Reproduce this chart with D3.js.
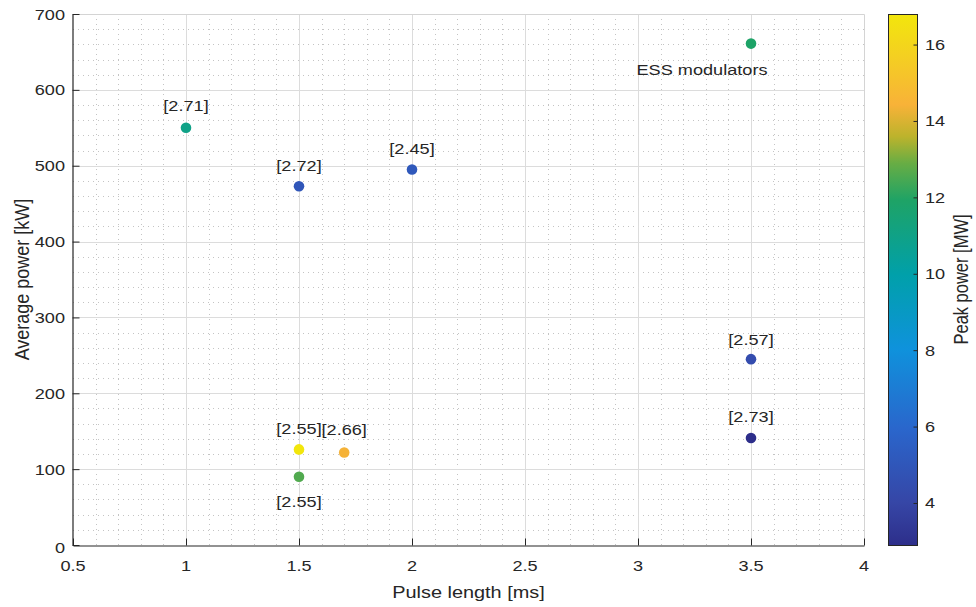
<!DOCTYPE html>
<html>
<head>
<meta charset="utf-8">
<script src="https://cdn.jsdelivr.net/npm/d3@7"></script>
<style>
  html, body { margin: 0; padding: 0; background: #fff; }
  svg { display: block; }
  text { font-family: "Liberation Sans", Arial, Helvetica, sans-serif; fill: #262626; }
</style>
</head>
<body>
<svg id="chart" width="976" height="607"></svg>
<script>
// Modulator survey: pulse length vs average power, coloured by peak power
const pulseLength = [1.0, 1.5, 2.0, 3.5, 3.5, 3.5, 1.5, 1.7, 1.5];
const avgPower    = [550, 473, 495, 661, 245, 141, 126, 122, 90];
const peakPower   = [11.0, 5.0, 5.1, 11.9, 4.4, 2.9, 16.8, 14.4, 12.6];
const pointLabels = ["[2.71]", "[2.72]", "[2.45]", "ESS modulators", "[2.57]", "[2.73]", "[2.55]", "[2.66]", "[2.55]"];

const xTicks = [0.5, 1, 1.5, 2, 2.5, 3, 3.5, 4];
const yTicks = [0, 100, 200, 300, 400, 500, 600, 700];
const cTicks = [4, 6, 8, 10, 12, 14, 16];
const xLabel = "Pulse length [ms]";
const yLabel = "Average power [kW]";
const cLabel = "Peak power [MW]";

// label placement relative to each marker [dx, dy]
const labelOffsets = [[0, -17], [0, -15], [0, -16], [-49, 31], [0, -14], [0, -16], [0, -15], [0, -17], [0, 30]];

// parula-style colormap stops (low -> high)
const colourStops = [
  [0.00, "#2d2e8a"], [0.08, "#3646a6"], [0.22, "#2a66cc"], [0.37, "#0f92dc"],
  [0.51, "#00a0aa"], [0.65, "#1ea366"], [0.72, "#68ad44"], [0.77, "#bcb32c"],
  [0.83, "#f8b238"], [0.92, "#f4cf22"], [1.00, "#f2e60c"]
];

const stretch = 1.17; // horizontal glyph scaling
const svg = d3.select("#chart");

const plot = { left: 73, right: 864, top: 14, bottom: 545 };
const cbar = { left: 888, right: 917, top: 14, bottom: 545 };

const x = d3.scaleLinear().domain([0.5, 4]).range([plot.left, plot.right]);
const y = d3.scaleLinear().domain([0, 700]).range([plot.bottom, plot.top]);
const cExtent = d3.extent(peakPower);
const cScale = d3.scaleLinear().domain(cExtent).range([cbar.bottom, cbar.top]);
const colour = d3.scaleLinear()
  .domain(colourStops.map(s => cExtent[0] + s[0] * (cExtent[1] - cExtent[0])))
  .range(colourStops.map(s => s[1]))
  .interpolate(d3.interpolateRgb);

function addText(g, tx, ty, str, opts) {
  const o = Object.assign({ anchor: "middle", size: 15.5, rotate: 0 }, opts || {});
  return g.append("text")
    .attr("transform", `translate(${tx},${ty}) scale(${stretch},1)` + (o.rotate ? ` rotate(${o.rotate})` : ""))
    .attr("text-anchor", o.anchor)
    .style("font-size", o.size + "px")
    .text(str);
}

// grid
const grid = svg.append("g");
const xMinor = d3.range(6, 40).map(v => v / 10).filter(v => !xTicks.some(t => Math.abs(t - v) < 1e-6));
const yMinor = d3.range(20, 700, 20).filter(v => v % 100 !== 0);

grid.selectAll(".xminor").data(xMinor).join("line")
  .attr("x1", d => Math.round(x(d)) + 0.5).attr("x2", d => Math.round(x(d)) + 0.5)
  .attr("y1", plot.top).attr("y2", plot.bottom)
  .attr("stroke", "#c4c4c4").attr("stroke-width", 1).attr("stroke-dasharray", "1,4");
grid.selectAll(".yminor").data(yMinor).join("line")
  .attr("y1", d => Math.round(y(d)) + 0.5).attr("y2", d => Math.round(y(d)) + 0.5)
  .attr("x1", plot.left).attr("x2", plot.right)
  .attr("stroke", "#c4c4c4").attr("stroke-width", 1).attr("stroke-dasharray", "1,4");
grid.selectAll(".xmajor").data(xTicks.slice(1, -1)).join("line")
  .attr("x1", d => Math.round(x(d)) + 0.5).attr("x2", d => Math.round(x(d)) + 0.5)
  .attr("y1", plot.top).attr("y2", plot.bottom)
  .attr("stroke", "#dcdcdc").attr("stroke-width", 1);
grid.selectAll(".ymajor").data(yTicks.slice(1, -1)).join("line")
  .attr("y1", d => Math.round(y(d)) + 0.5).attr("y2", d => Math.round(y(d)) + 0.5)
  .attr("x1", plot.left).attr("x2", plot.right)
  .attr("stroke", "#dcdcdc").attr("stroke-width", 1);

// light top/right frame
svg.append("path")
  .attr("d", `M${plot.left},${plot.top + 0.5}H${plot.right + 0.5}V${plot.bottom}`)
  .attr("fill", "none").attr("stroke", "#d4d4d4");

// axes
const xAxis = d3.axisBottom(x).tickValues(xTicks).tickSize(-7).tickSizeOuter(0).tickFormat(d3.format("~g"));
const yAxis = d3.axisLeft(y).tickValues(yTicks).tickSize(-7).tickSizeOuter(0).tickFormat(d3.format("~g"));

const gx = svg.append("g").attr("transform", `translate(0,${plot.bottom + 0.5})`).call(xAxis);
const gy = svg.append("g").attr("transform", `translate(${plot.left - 0.5},0)`).call(yAxis);
[gx, gy].forEach(g => {
  g.select(".domain").attr("stroke", "#262626").attr("stroke-width", 1.2);
  g.selectAll(".tick line").attr("stroke", "#262626");
  g.selectAll(".tick text").remove();
});

// tick labels
xTicks.forEach(t => addText(svg, x(t), 571, d3.format("~g")(t)));
yTicks.forEach(t => addText(svg, plot.left - 8, t === 0 ? 553 : y(t) + 5.5, d3.format("~g")(t), { anchor: "end" }));

// axis titles
addText(svg, (plot.left + plot.right) / 2, 598, xLabel, { size: 17 });
addText(svg, 29, (plot.top + plot.bottom) / 2, yLabel, { size: 18, rotate: -90 });

// markers
svg.append("g").selectAll("circle")
  .data(d3.range(pulseLength.length)).join("circle")
  .attr("cx", i => x(pulseLength[i]))
  .attr("cy", i => y(avgPower[i]))
  .attr("r", 5.3)
  .attr("fill", i => colour(peakPower[i]));

// point annotations
const ann = svg.append("g");
pointLabels.forEach((s, i) => {
  addText(ann, x(pulseLength[i]) + labelOffsets[i][0], y(avgPower[i]) + labelOffsets[i][1], s);
});

// colorbar
const defs = svg.append("defs");
const grad = defs.append("linearGradient").attr("id", "peakGrad")
  .attr("x1", 0).attr("y1", 1).attr("x2", 0).attr("y2", 0);
colourStops.forEach(s => grad.append("stop").attr("offset", s[0]).attr("stop-color", s[1]));

svg.append("rect")
  .attr("x", cbar.left + 0.5).attr("y", cbar.top + 0.5)
  .attr("width", cbar.right - cbar.left).attr("height", cbar.bottom - cbar.top)
  .attr("fill", "url(#peakGrad)")
  .attr("stroke", "#262626").attr("stroke-width", 1);

const cAxis = d3.axisRight(cScale).tickValues(cTicks).tickSize(-4).tickSizeOuter(0);
const gc = svg.append("g").attr("transform", `translate(${cbar.right + 0.5},0)`).call(cAxis);
gc.select(".domain").remove();
gc.selectAll(".tick line").attr("stroke", "#262626");
gc.selectAll(".tick text").remove();
cTicks.forEach(t => addText(svg, cbar.right + 8, cScale(t) + 5.5, String(t), { anchor: "start" }));

addText(svg, 968, (cbar.top + cbar.bottom) / 2, cLabel, { size: 16.5, rotate: -90 });
</script>
</body>
</html>
